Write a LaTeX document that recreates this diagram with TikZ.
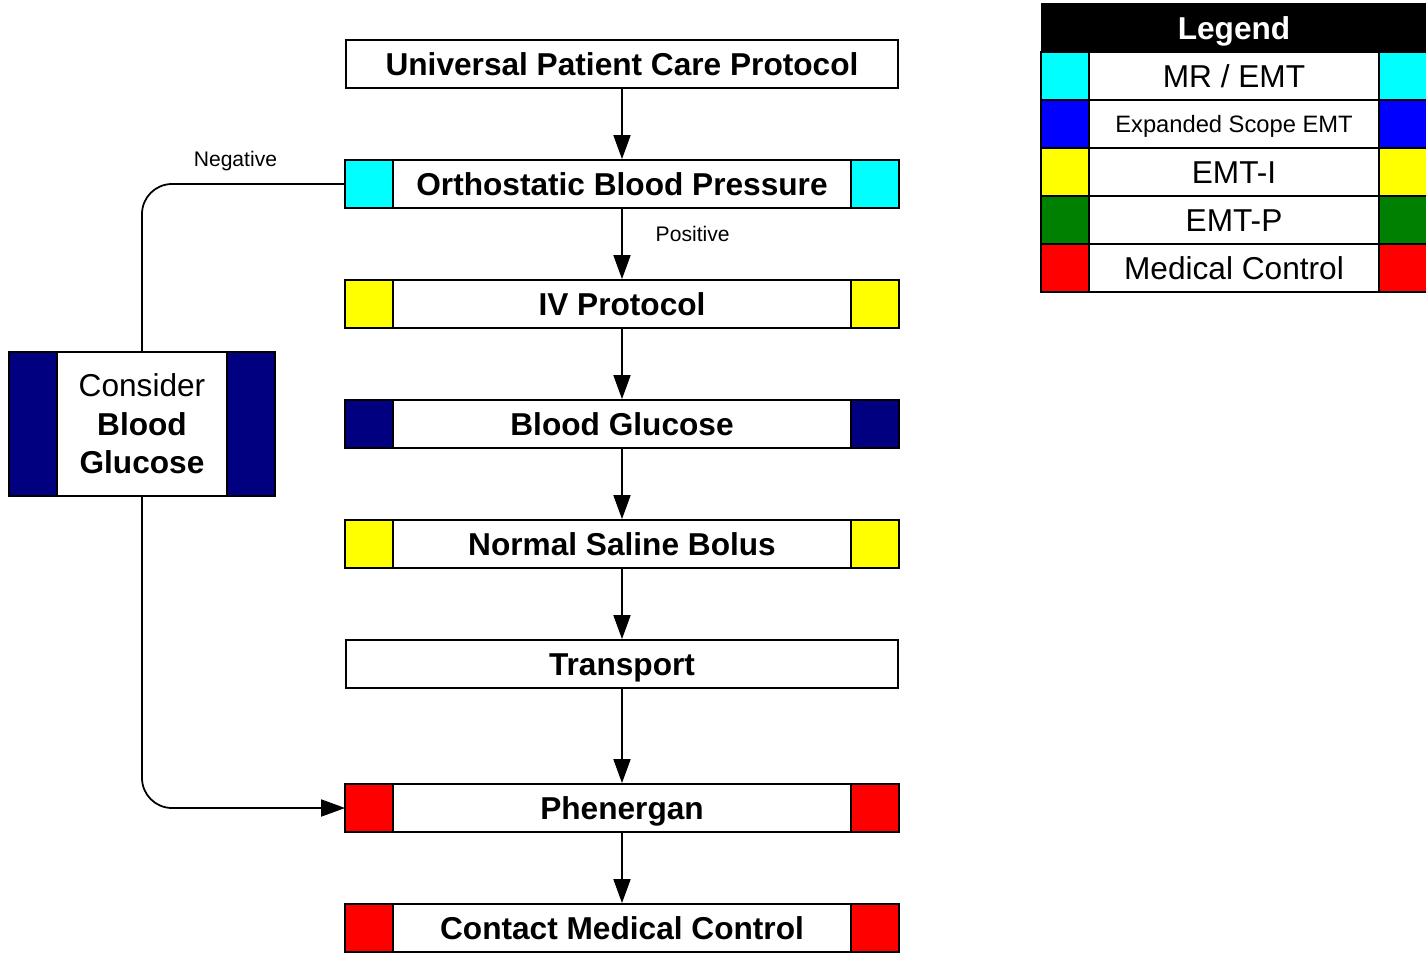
\documentclass[tikz,border=0pt]{standalone}
\usepackage{fontspec}
\setmainfont{Liberation Sans}
\usetikzlibrary{arrows.meta, positioning}

\definecolor{mrcyan}{RGB}{0,255,255}
\definecolor{esblue}{RGB}{0,0,255}
\definecolor{ivyellow}{RGB}{255,255,0}
\definecolor{pgreen}{RGB}{0,128,0}
\definecolor{mcred}{RGB}{255,0,0}
\definecolor{bgnavy}{RGB}{0,0,128}

\tikzset{
  stepbox/.style = {draw, line width=1pt, fill=white, minimum width=11.04cm, minimum height=0.96cm, text height=12.9pt, text depth=0pt, font=\bfseries\fontsize{18}{20}\selectfont},
  tag/.style = {draw, line width=1pt, minimum width=0.96cm, minimum height=0.96cm, inner sep=0pt, outer sep=0pt},
  legrow/.style = {draw, line width=1pt, fill=white, minimum width=7.68cm, minimum height=0.96cm, text height=12.9pt, text depth=0pt, font=\fontsize{18}{20}\selectfont},
  lbl/.style = {font=\fontsize{12}{14}\selectfont},
  flow/.style = {line width=1pt, -{Triangle[length=0.48cm, width=0.34cm]}}
}

\begin{document}
\begin{tikzpicture}[on grid, node distance = 2.4cm]
  \useasboundingbox (0,0) rectangle (28.52,-19.08);

  % main flow
  \node[stepbox] (upcp) at (12.44,-1.28) {Universal Patient Care Protocol};
  \node[stepbox, below = of upcp] (obp) {Orthostatic Blood Pressure};
  \node[stepbox, below = of obp] (iv) {IV Protocol};
  \node[stepbox, below = of iv] (bg) {Blood Glucose};
  \node[stepbox, below = of bg] (ns) {Normal Saline Bolus};
  \node[stepbox, below = of ns] (transport) {Transport};
  \node[stepbox, below = 2.88cm of transport] (phen) {Phenergan};
  \node[stepbox, below = of phen] (cmc) {Contact Medical Control};

  % side box
  \node[draw, line width=1pt, fill=white, minimum width=5.28cm, minimum height=2.88cm, align=center,
        font=\fontsize{18}{22}\selectfont, left = 9.6cm of bg] (cbg) {Consider\\\textbf{Blood}\\\textbf{Glucose}};
  \node[tag, fill=bgnavy, minimum height=2.88cm, anchor=west] (cbg-l) at (cbg.west) {};
  \node[tag, fill=bgnavy, minimum height=2.88cm, anchor=east] (cbg-r) at (cbg.east) {};

  % legend
  \node[legrow, fill=black, text=white, font=\bfseries\fontsize{18}{20}\selectfont] (leghead) at (24.68,-0.56) {Legend};
  \node[legrow, below = 0.96cm of leghead] (legmr) {MR / EMT};
  \node[legrow, below = 0.96cm of legmr, font=\fontsize{13.5}{16}\selectfont, text height=9.7pt] (leges) {Expanded Scope EMT};
  \node[legrow, below = 0.96cm of leges] (legi) {EMT-I};
  \node[legrow, below = 0.96cm of legi] (legp) {EMT-P};
  \node[legrow, below = 0.96cm of legp] (legmc) {Medical Control};

  % colour tags
  \foreach \n/\c in {obp/mrcyan, iv/ivyellow, bg/bgnavy, ns/ivyellow, phen/mcred, cmc/mcred,
                     legmr/mrcyan, leges/esblue, legi/ivyellow, legp/pgreen, legmc/mcred} {
    \node[tag, fill=\c, anchor=west] (\n-l) at (\n.west) {};
    \node[tag, fill=\c, anchor=east] (\n-r) at (\n.east) {};
  }

  \path[flow]
  (upcp)      edge (obp)
  (obp)       edge node[lbl, pos=0.35, anchor=west, xshift=0.54cm] {Positive} (iv)
  (iv)        edge (bg)
  (bg)        edge (ns)
  (ns)        edge (transport)
  (transport) edge (phen)
  (phen)      edge (cmc)
  ;
  \draw[line width=1pt, rounded corners=0.6cm] (obp.west) -| node[lbl, pos=0.27, above=0.12cm] {Negative} (cbg.north);
  \draw[flow, rounded corners=0.6cm] (cbg.south) |- (phen.west);
\end{tikzpicture}
\end{document}
